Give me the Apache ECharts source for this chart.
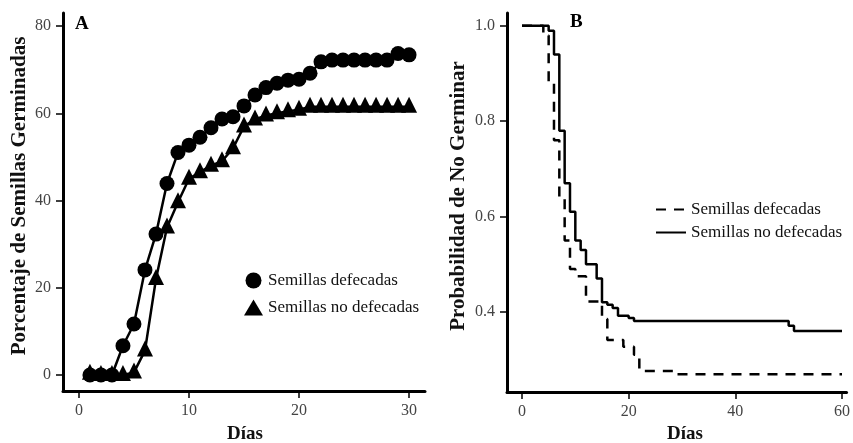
<!DOCTYPE html>
<html>
<head>
<meta charset="utf-8">
<script src="https://cdn.jsdelivr.net/npm/echarts@6/dist/echarts.min.js"></script>
<style>
  html, body { margin: 0; padding: 0; background: #fff; }
  #chart { width: 853px; height: 443px; }
</style>
</head>
<body>
<div id="chart"></div>
<script>
// Panel A: cumulative germination (%) per day
const days = [1, 2, 3, 4, 5, 6, 7, 8, 9, 10, 11, 12, 13, 14, 15, 16, 17, 18, 19, 20, 21, 22, 23, 24, 25, 26, 27, 28, 29, 30];
const pctDefecadas = [0, 0, 0, 6.7, 11.7, 24.1, 32.3, 43.9, 51.0, 52.7, 54.5, 56.7, 58.7, 59.2, 61.7, 64.2, 65.9, 66.9, 67.6, 67.8, 69.2, 71.8, 72.2, 72.2, 72.2, 72.2, 72.2, 72.2, 73.7, 73.4];
const pctNoDefecadas = [0.3, 0, 0, 0, 0.6, 5.6, 22.0, 33.8, 39.6, 45.0, 46.5, 48.0, 49.0, 52.0, 57.0, 58.6, 59.5, 60.0, 60.5, 60.8, 61.5, 61.5, 61.5, 61.5, 61.5, 61.5, 61.5, 61.5, 61.5, 61.5];

// Panel B: probability of not germinating (step curves)
const tDefecadas = [0, 4, 5, 6, 7, 8, 9, 10, 12, 15, 16, 19, 21, 22, 29, 60];
const sDefecadas = [1.0, 0.98, 0.88, 0.76, 0.64, 0.55, 0.49, 0.475, 0.422, 0.385, 0.341, 0.327, 0.31, 0.276, 0.269, 0.269];
const tNoDefecadas = [0, 5, 6, 7, 8, 9, 10, 11, 12, 14, 15, 16, 17, 18, 20, 21, 50, 51, 60];
const sNoDefecadas = [1.0, 0.99, 0.94, 0.78, 0.67, 0.61, 0.55, 0.53, 0.50, 0.47, 0.42, 0.415, 0.408, 0.392, 0.387, 0.381, 0.371, 0.36, 0.36];

// Tick labels
const ticksA_x = [0, 10, 20, 30];
const ticksA_y = [0, 20, 40, 60, 80];
const ticksB_x = [0, 20, 40, 60];
const ticksB_y = [0.4, 0.6, 0.8, 1.0];

const labelDef = 'Semillas defecadas';
const labelNoDef = 'Semillas no defecadas';

const FONT = '"Liberation Serif", "Times New Roman", serif';
const INK = '#000';

function zip(xs, ys) { return xs.map((x, i) => [x, ys[i]]); }

function axisCommon(ticks, fmt) {
  return {
    type: 'value',
    splitLine: { show: false },
    axisLine: { show: true, onZero: false, lineStyle: { color: INK, width: 3 } },
    axisTick: { show: true, inside: false, length: 7, customValues: ticks, lineStyle: { color: INK, width: 1.5 } },
    axisLabel: { customValues: ticks, color: '#444', fontFamily: FONT, fontSize: 16, margin: 12, formatter: fmt }
  };
}

const chart = echarts.init(document.getElementById('chart'), null, { renderer: 'canvas' });

chart.setOption({
  animation: false,
  backgroundColor: '#fff',
  grid: [
    { left: 63, top: 13, width: 362, height: 378 },
    { left: 507, top: 13, width: 346, height: 379 }
  ],
  xAxis: [
    Object.assign(axisCommon(ticksA_x, v => String(v)), { gridIndex: 0, min: -1.45, max: 31.45 }),
    Object.assign(axisCommon(ticksB_x, v => String(v)), { gridIndex: 1, min: -2.81, max: 60.85 })
  ],
  yAxis: [
    Object.assign(axisCommon(ticksA_y, v => String(v)), { gridIndex: 0, min: -3.67, max: 83.0 }),
    Object.assign(axisCommon(ticksB_y, v => v.toFixed(1)), { gridIndex: 1, min: 0.232, max: 1.027 })
  ],
  legend: [
    {
      left: 239, top: 267, orient: 'vertical', itemWidth: 19, itemHeight: 16, itemGap: 10,
      textStyle: { fontFamily: FONT, fontSize: 17, color: '#111' },
      formatter: n => n.split('|').pop(),
      data: [
        { name: 'A|' + labelDef, icon: 'circle' },
        { name: 'A|' + labelNoDef, icon: 'triangle' }
      ],
      selectedMode: false
    },
    {
      left: 650, top: 196, orient: 'vertical', itemWidth: 30, itemHeight: 14, itemGap: 6,
      textStyle: { fontFamily: FONT, fontSize: 17, color: '#111' },
      itemStyle: { opacity: 0 },
      formatter: n => n.split('|').pop(),
      data: ['B|' + labelDef, 'B|' + labelNoDef],
      selectedMode: false
    }
  ],
  series: [
    {
      name: 'A|' + labelDef, type: 'line', xAxisIndex: 0, yAxisIndex: 0,
      data: zip(days, pctDefecadas),
      symbol: 'circle', symbolSize: 15,
      itemStyle: { color: INK },
      lineStyle: { color: INK, width: 2.5 },
      z: 3
    },
    {
      name: 'A|' + labelNoDef, type: 'line', xAxisIndex: 0, yAxisIndex: 0,
      data: zip(days, pctNoDefecadas),
      symbol: 'triangle', symbolSize: 16, symbolOffset: [0, -2],
      itemStyle: { color: INK },
      lineStyle: { color: INK, width: 2.5 },
      z: 2
    },
    {
      name: 'B|' + labelDef, type: 'line', xAxisIndex: 1, yAxisIndex: 1,
      data: zip(tDefecadas, sDefecadas),
      step: 'end', symbol: 'none',
      itemStyle: { color: INK },
      lineStyle: { color: INK, width: 2.5, type: [10, 8] }
    },
    {
      name: 'B|' + labelNoDef, type: 'line', xAxisIndex: 1, yAxisIndex: 1,
      data: zip(tNoDefecadas, sNoDefecadas),
      step: 'end', symbol: 'none',
      itemStyle: { color: INK },
      lineStyle: { color: INK, width: 2.5 }
    }
  ],
  graphic: [
    { type: 'text', left: 75, top: 15, style: { text: 'A', font: 'bold 19px ' + FONT, fill: INK } },
    { type: 'text', left: 570, top: 13, style: { text: 'B', font: 'bold 19px ' + FONT, fill: INK } },
    { type: 'text', x: 20, y: 196, rotation: Math.PI / 2,
      style: { text: 'Porcentaje de Semillas Germinadas', font: 'bold 21px ' + FONT, fill: '#111', align: 'center', verticalAlign: 'middle' } },
    { type: 'text', x: 459, y: 196, rotation: Math.PI / 2,
      style: { text: 'Probabilidad de No Germinar', font: 'bold 21px ' + FONT, fill: '#111', align: 'center', verticalAlign: 'middle' } },
    { type: 'text', x: 245, y: 434,
      style: { text: 'Días', font: 'bold 19px ' + FONT, fill: '#111', align: 'center', verticalAlign: 'middle' } },
    { type: 'text', x: 685, y: 434,
      style: { text: 'Días', font: 'bold 19px ' + FONT, fill: '#111', align: 'center', verticalAlign: 'middle' } }
  ]
});
</script>
</body>
</html>
